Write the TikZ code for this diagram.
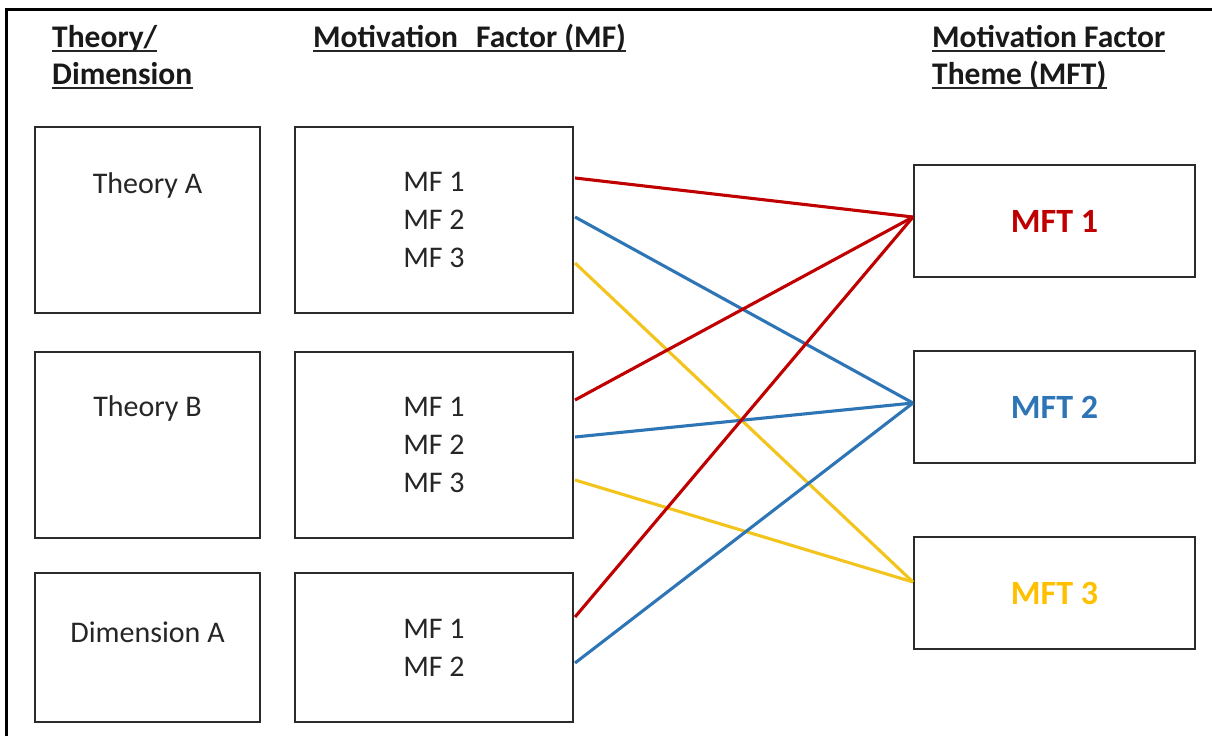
\documentclass[tikz,border=0pt]{standalone}
\usepackage{fontspec}
\setmainfont{Carlito}
\definecolor{mfred}{HTML}{C00000}
\definecolor{mfblue}{HTML}{2E75B6}
\definecolor{mfyellow}{HTML}{F2C41C}
\definecolor{mftyellow}{HTML}{FFC000}
\definecolor{boxline}{HTML}{2B2B2B}
\definecolor{bodytext}{HTML}{262626}
\tikzset{
  box/.style={draw=boxline, line width=2pt, inner sep=0pt, align=center,
    text=bodytext, font=\fontsize{30}{38}\selectfont},
  leftbox/.style={box, minimum width=225pt, minimum height=186pt},
  mfbox/.style={box, minimum width=278pt, minimum height=186pt},
  themebox/.style={box, minimum width=281pt, minimum height=112pt,
    font=\fontsize{34}{38}\selectfont\bfseries},
  label/.style={inner sep=0pt, text=bodytext, font=\fontsize{30}{38}\selectfont},
  hdr/.style={anchor=base west, inner sep=0pt, text=black!90,
    font=\fontsize{31.5}{37}\selectfont\bfseries},
  uline/.style={line width=2pt, black!85},
  link/.style={line width=3.1pt},
}
\begin{document}
\begin{tikzpicture}[x=1pt, y=-1pt]
\useasboundingbox (0,0) rectangle (1212,736);
% outer frame (top and left edges)
\draw[line width=3pt, black] (6,736) -- (6,9) -- (1212,9);

% column headings
\node[hdr] (h1) at (52,47) {Theory/};
\node[hdr] (h2) at (52,84) {Dimension};
\node[hdr] (h3) at (313,47) {Motivation\hspace{11pt} Factor (MF)};
\node[hdr] (h4) at (932,47) {Motivation Factor};
\node[hdr] (h5) at (932,84) {Theme (MFT)};
\foreach \h in {h1,h2,h3,h4,h5}
  \draw[uline] ([yshift=-4pt]\h.base west) -- ([yshift=-4pt]\h.base east);

% theory / dimension boxes
\node[leftbox] (thA) at (147.5,220) {};
\node[label] at (147.5,185) {Theory A};
\node[leftbox] (thB) at (147.5,444.5) {};
\node[label] at (147.5,408) {Theory B};
\node[leftbox, minimum height=149pt] (dimA) at (147.5,647.5) {};
\node[label] at (147.5,632) {Dimension A};

% motivation factor boxes
\node[mfbox] (mfA) at (434,220) {MF 1\\MF 2\\MF 3};
\node[mfbox] (mfB) at (434,444.5) {MF 1\\MF 2\\MF 3};
\node[mfbox, minimum height=149pt] (mfC) at (434,647.5) {MF 1\\MF 2};

% motivation factor theme boxes
\node[themebox, text=mfred] (t1) at (1054.5,221) {MFT 1};
\node[themebox, text=mfblue] (t2) at (1054.5,407) {MFT 2};
\node[themebox, text=mftyellow] (t3) at (1054.5,593) {MFT 3};

% ports on the factor boxes
\coordinate (a1) at (575,178);
\coordinate (a2) at (575,217);
\coordinate (a3) at (575,263);
\coordinate (b1) at (575,400);
\coordinate (b2) at (575,437);
\coordinate (b3) at (575,480);
\coordinate (c1) at (575,617);
\coordinate (c2) at (575,663);
% ports on the theme boxes
\coordinate (p1) at ([yshift=4pt]t1.west);
\coordinate (p2) at ([yshift=4pt]t2.west);
\coordinate (p3) at ([yshift=11pt]t3.west);

% links
\draw[link, mfred] (a1) -- (p1);
\draw[link, mfblue] (a2) -- (p2);
\draw[link, mfyellow] (a3) -- (p3);
\draw[link, mfred] (b1) -- (p1);
\draw[link, mfblue] (b2) -- (p2);
\draw[link, mfyellow] (b3) -- (p3);
\draw[link, mfred] (c1) -- (p1);
\draw[link, mfblue] (c2) -- (p2);
\end{tikzpicture}
\end{document}
